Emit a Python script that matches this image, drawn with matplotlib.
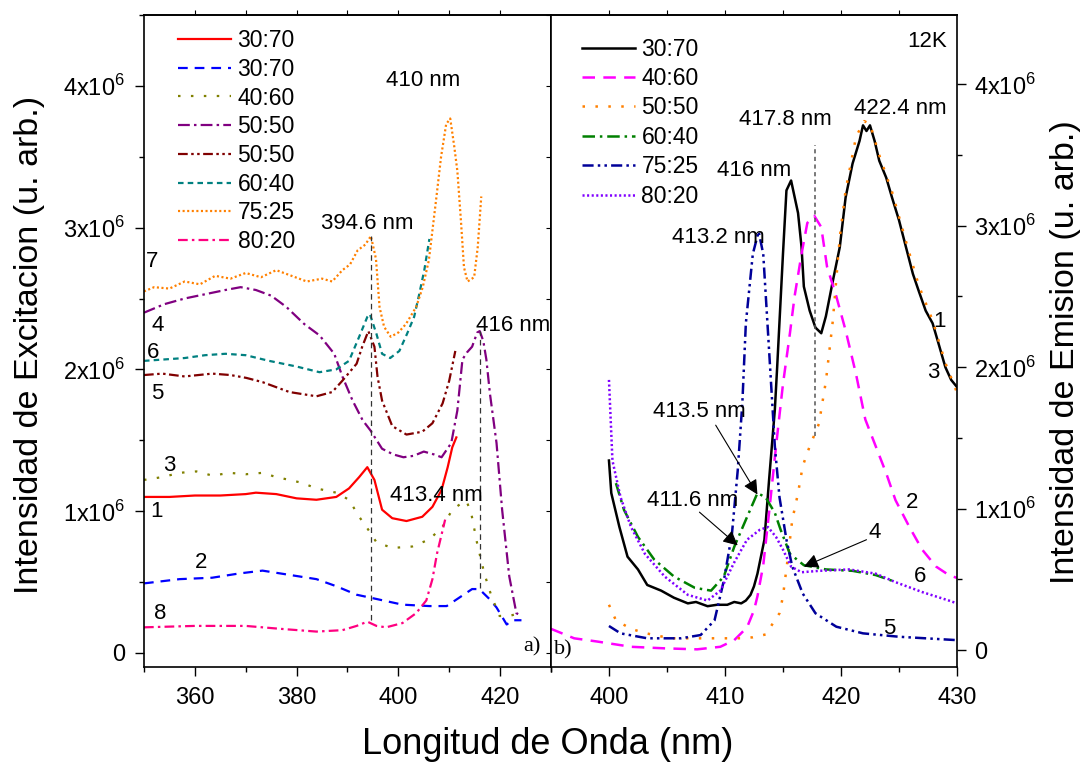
import numpy as np
import matplotlib.pyplot as plt
from matplotlib.ticker import MultipleLocator, FixedLocator

plt.rcParams['font.family'] = ['Liberation Sans', 'DejaVu Sans']
plt.rcParams['mathtext.fontset'] = 'custom'
plt.rcParams['mathtext.rm'] = 'Liberation Sans'
plt.rcParams['lines.scale_dashes'] = False

# ---------------- a) espectros de excitacion (u. arb. / 1e6) ----------------
exc_labels = ['30:70', '30:70', '40:60', '50:50', '50:50', '60:40', '75:25', '80:20']

exc1_x = [350, 355, 360, 365, 370, 372, 376, 380, 383.9, 387.8, 390.3, 392.3, 393.9, 395.3,
          396.8, 398.8, 401.6, 404.7, 406.7, 408.5, 409.7, 410.6, 411.4]
exc1_y = [1.10, 1.10, 1.11, 1.11, 1.12, 1.13, 1.12, 1.09, 1.08, 1.10, 1.16, 1.24, 1.31, 1.22,
          1.01, 0.95, 0.93, 0.96, 1.03, 1.15, 1.31, 1.45, 1.52]

exc2_x = [350, 357, 363.4, 368.7, 373.3, 378.6, 383.9, 387.8, 391.8, 395.7, 400.8, 406.1,
          409.5, 412, 414.5, 415.9, 417.9, 419.3, 421.3, 422.4, 424.2]
exc2_y = [0.49, 0.52, 0.53, 0.56, 0.58, 0.55, 0.52, 0.47, 0.41, 0.38, 0.34, 0.33,
          0.33, 0.39, 0.45, 0.45, 0.38, 0.32, 0.20, 0.23, 0.23]

exc3_x = [350, 353.6, 357, 360.3, 363.5, 366.8, 370, 373.3, 376, 378.6, 381, 383.9, 387.8,
          390.3, 392.3, 393.7, 395.7, 398.8, 402.7, 406.1, 408.7, 410.6, 412.6, 413.4, 414.3,
          415.5, 416.9, 418.3, 419.9, 421.8, 423.8]
exc3_y = [1.22, 1.24, 1.27, 1.28, 1.25, 1.27, 1.26, 1.27, 1.24, 1.22, 1.20, 1.16, 1.13,
          1.08, 0.96, 0.89, 0.78, 0.74, 0.75, 0.80, 0.89, 1.01, 1.06, 1.07, 0.99,
          0.77, 0.56, 0.40, 0.26, 0.26, 0.28]

exc4_x = [350, 354, 358, 362, 366, 369, 372, 375, 378, 381.5, 384.5, 387.4, 389, 391, 393,
          394.5, 396.8, 399, 401, 403, 405, 407, 408.5, 410.4, 411.6, 412.6, 413.5, 414.5,
          415.5, 416, 416.7, 417.3, 418, 419.3, 420.4, 421.8, 423.2, 424.2]
exc4_y = [2.40, 2.46, 2.50, 2.53, 2.56, 2.58, 2.56, 2.52, 2.44, 2.32, 2.24, 2.11, 1.95, 1.78, 1.64,
          1.57, 1.44, 1.40, 1.38, 1.39, 1.42, 1.40, 1.38, 1.48, 1.71, 2.07, 2.12, 2.16,
          2.26, 2.27, 2.20, 2.07, 1.83, 1.48, 1.01, 0.54, 0.28, 0.26]

exc5_x = [350, 353.6, 358, 363.4, 367, 370.1, 373.3, 378.6, 383.9, 387, 389, 391.8, 392.9,
          394.1, 395.3, 395.9, 396.8, 398.8, 401.6, 404.7, 406.7, 408.7, 410, 411.2]
exc5_y = [1.96, 1.97, 1.95, 1.97, 1.96, 1.94, 1.91, 1.84, 1.81, 1.84, 1.92, 2.04, 2.16,
          2.27, 2.16, 1.95, 1.78, 1.60, 1.54, 1.56, 1.62, 1.76, 1.92, 2.13]

exc6_x = [350, 354, 358, 362, 366, 370, 374.6, 380, 384.5, 387.8, 390.3, 392.3, 393.9, 394.4,
          395.7, 396.8, 398.4, 400.2, 401.7, 403.1, 404.1, 405.1, 406.1]
exc6_y = [2.06, 2.07, 2.08, 2.10, 2.11, 2.10, 2.06, 2.02, 1.98, 2.00, 2.06, 2.23, 2.37, 2.39,
          2.25, 2.11, 2.08, 2.13, 2.25, 2.37, 2.53, 2.70, 2.92]

exc7_x = [350, 352, 355, 358, 361, 364, 367, 370, 373, 376, 379, 382, 385, 387, 389, 390.5,
          392, 393.5, 394.6, 395.6, 396.3, 397.2, 398.5, 400, 401.5, 403.5, 404.8, 406, 407.4,
          408.4, 409.4, 410.2, 411, 411.6, 412.3, 412.9, 413.6, 414.9, 415.6, 416.3]
exc7_y = [2.55, 2.58, 2.57, 2.62, 2.60, 2.66, 2.64, 2.68, 2.65, 2.70, 2.66, 2.62, 2.64, 2.62,
          2.70, 2.74, 2.84, 2.88, 2.94, 2.78, 2.44, 2.30, 2.23, 2.26, 2.32, 2.44, 2.58, 2.77,
          3.19, 3.50, 3.73, 3.77, 3.57, 3.40, 3.05, 2.72, 2.62, 2.65, 2.86, 3.22]

exc8_x = [350, 360, 370, 376.6, 383.9, 389, 391.8, 393.9, 395.7, 397.6, 400.8, 403.5, 405.5,
          406.7, 407.6, 408.6, 409.2]
exc8_y = [0.18, 0.19, 0.19, 0.17, 0.15, 0.16, 0.19, 0.22, 0.19, 0.18, 0.21, 0.28, 0.37,
          0.52, 0.70, 0.85, 0.94]

# lineas verticales de los picos (x, y inferior, y superior)
exc_peak_x = [394.6, 416.0]
exc_peak_lo = [0.23, 0.46]
exc_peak_hi = [2.94, 2.27]

# ---------------- b) espectros de emision 12K ----------------
em_labels = ['30:70', '40:60', '50:50', '60:40', '75:25', '80:20']

em1_x = [400, 400.2, 400.9, 401.6, 402.5, 403.3, 404.5, 405.6, 406.8, 407.5, 408.5, 409.3,
         410.2, 410.8, 411.4, 411.8, 412.2, 412.5, 412.8, 413.4, 413.8, 414.3, 414.5, 415.0,
         415.3, 415.7, 416.3, 416.6, 416.8, 417.3, 417.8, 418.3, 418.7, 419.3, 419.9, 420.4,
         421.0, 421.6, 421.9, 422.2, 422.5, 422.9, 423.3, 423.9, 424.4, 425.0, 425.6, 426.2,
         426.7, 427.3, 427.9, 428.4, 429.0, 429.5, 430]
em1_y = [1.34, 1.11, 0.87, 0.66, 0.57, 0.46, 0.42, 0.37, 0.33, 0.34, 0.31, 0.32,
         0.32, 0.34, 0.33, 0.35, 0.39, 0.45, 0.54, 0.78, 1.20, 1.70, 2.00, 2.80,
         3.25, 3.32, 3.09, 2.85, 2.57, 2.40, 2.28, 2.24, 2.36, 2.61, 2.85, 3.20,
         3.44, 3.60, 3.71, 3.67, 3.71, 3.60, 3.46, 3.34, 3.20, 3.04, 2.85, 2.66,
         2.54, 2.40, 2.31, 2.17, 2.00, 1.91, 1.86]

em2_x = [395, 397, 399, 401.9, 404.8, 407.6, 409.6, 410.8, 411.9, 412.5, 412.8, 413.3, 413.8,
         414.4, 415.0, 415.6, 416.0, 416.6, 417.1, 417.7, 418.3, 418.8, 419.6, 420.4, 421.3,
         422.1, 423.0, 423.9, 424.7, 425.9, 427.0, 428.2, 429.3, 430]
em2_y = [0.15, 0.083, 0.06, 0.023, 0.012, 0.005, 0.023, 0.07, 0.16, 0.28, 0.38, 0.60, 0.97,
         1.44, 1.88, 2.24, 2.50, 2.80, 3.02, 3.07, 2.99, 2.71, 2.50, 2.26, 1.95,
         1.63, 1.44, 1.25, 1.06, 0.87, 0.71, 0.59, 0.53, 0.51]

em3_x = [400, 400.6, 401.9, 403.1, 405.3, 407.6, 409.6, 411.4, 412.4, 413.5, 414.7, 415.0,
         415.4, 415.8, 416.3, 416.7, 417.3, 418.1, 418.7, 419.3, 419.9, 420.4, 421.3, 422.0,
         422.5, 423.3, 424.4, 425.6, 426.7, 427.9, 429.0, 430]
em3_y = [0.32, 0.21, 0.15, 0.12, 0.083, 0.083, 0.083, 0.083, 0.09, 0.11, 0.26, 0.38,
         0.64, 0.92, 1.11, 1.30, 1.44, 1.60, 1.90, 2.33, 2.92, 3.25, 3.63, 3.74,
         3.72, 3.50, 3.24, 2.89, 2.58, 2.33, 2.03, 1.82]

em4_x = [400.6, 401.3, 402.5, 403.9, 405.6, 407.4, 408.8, 409.9, 410.8, 411.9, 412.8, 413.5,
         414.3, 414.8, 415.6, 416.8, 418.7, 421.0, 423.0, 424.4]
em4_y = [1.18, 0.99, 0.80, 0.64, 0.52, 0.44, 0.42, 0.52, 0.73, 0.94, 1.11, 1.08,
         0.97, 0.85, 0.68, 0.60, 0.57, 0.56, 0.53, 0.49]

em5_x = [400, 401.0, 403.3, 406.2, 407.9, 409.1, 409.9, 410.6, 411.1, 411.5, 411.8, 412.4,
         412.9, 413.3, 413.7, 414.0, 414.3, 414.7, 415.3, 415.8, 416.7, 417.8, 419.6, 421.9,
         425.0, 430]
em5_y = [0.17, 0.118, 0.083, 0.083, 0.106, 0.21, 0.49, 0.82, 1.27, 1.75, 2.31, 2.80,
         2.96, 2.80, 2.26, 1.85, 1.44, 1.08, 0.78, 0.59, 0.40, 0.26, 0.165, 0.118,
         0.094, 0.07]

em6_x = [400, 400.3, 401.0, 401.9, 403.1, 404.8, 406.8, 408.5, 409.6, 410.8, 411.9, 413.0,
         413.7, 414.4, 415.0, 415.7, 416.6, 418.1, 420.7, 423.0, 424.7, 427.0, 429.3, 430]
em6_y = [1.91, 1.34, 1.08, 0.87, 0.68, 0.52, 0.39, 0.35, 0.42, 0.62, 0.78, 0.85,
         0.87, 0.80, 0.71, 0.59, 0.55, 0.56, 0.57, 0.54, 0.48, 0.41, 0.35, 0.33]

em_peak_x = [417.8]
em_peak_lo = [1.51]
em_peak_hi = [3.57]

ytick_vals = [0, 1, 2, 3, 4]
ytick_text = ['0', '1x10$^6$', '2x10$^6$', '3x10$^6$', '4x10$^6$']

# ---------------- figura ----------------
fig = plt.figure(figsize=(10.85, 7.63), dpi=100)
ax1 = fig.add_axes([0.1327, 0.1258, 0.3751, 0.8545])
ax2 = fig.add_axes([0.5078, 0.1258, 0.3742, 0.8545])

lw = 1.6
ax1.plot(exc1_x, exc1_y, color='#ff0000', lw=lw, label=exc_labels[0])
ax1.plot(exc2_x, exc2_y, color='#0000ff', lw=lw, dashes=(7, 5), label=exc_labels[1])
ax1.plot(exc3_x, exc3_y, color='#808000', lw=lw, dashes=(1.8, 7.5), label=exc_labels[2])
ax1.plot(exc4_x, exc4_y, color='#800080', lw=lw, dashes=(8.5, 3, 1.8, 3), label=exc_labels[3])
ax1.plot(exc5_x, exc5_y, color='#800000', lw=lw, dashes=(7, 2.5, 1.8, 2.5, 1.8, 2.5), label=exc_labels[4])
ax1.plot(exc6_x, exc6_y, color='#008080', lw=lw, dashes=(4, 3), label=exc_labels[5])
ax1.plot(exc7_x, exc7_y, color='#ff8000', lw=lw, dashes=(1.5, 1.8), label=exc_labels[6])
ax1.plot(exc8_x, exc8_y, color='#ff0080', lw=lw, dashes=(7, 3, 1.8, 3), label=exc_labels[7])
ax1.vlines(exc_peak_x, exc_peak_lo, exc_peak_hi, colors='#333333', lw=0.9, linestyles=(0, (4, 3)))

lw2 = 1.8
ax2.plot(em1_x, em1_y, color='black', lw=lw2, label=em_labels[0])
ax2.plot(em2_x, em2_y, color='#ff00ff', lw=lw2, dashes=(9, 6), label=em_labels[1])
ax2.plot(em3_x, em3_y, color='#ff8000', lw=lw2, dashes=(1.8, 7.5), label=em_labels[2])
ax2.plot(em4_x, em4_y, color='#008000', lw=lw2, dashes=(9, 3.5, 1.8, 3.5), label=em_labels[3])
ax2.plot(em5_x, em5_y, color='#000099', lw=lw2, dashes=(8, 3, 1.8, 3, 1.8, 3), label=em_labels[4])
ax2.plot(em6_x, em6_y, color='#8000ff', lw=lw2, dashes=(1.5, 1.8), label=em_labels[5])
ax2.vlines(em_peak_x, em_peak_lo, em_peak_hi, colors='#555555', lw=1.1, linestyles=(0, (3, 2.5)))

# ejes
ax1.set_xlim(350, 430)
ax1.set_ylim(-0.1, 4.5)
ax2.set_xlim(395, 430)
ax2.set_ylim(-0.12, 4.49)

tick_fs = 17
ax1.xaxis.set_major_locator(FixedLocator([360, 380, 400, 420]))
ax1.xaxis.set_minor_locator(MultipleLocator(10))
ax1.set_yticks(ytick_vals)
ax1.set_yticklabels(ytick_text)
ax1.yaxis.set_minor_locator(MultipleLocator(0.5))
ax1.tick_params(which='both', direction='out', labelsize=tick_fs, top=False, right=False)
ax1.tick_params(which='major', length=6.5, width=1)
ax1.tick_params(which='minor', length=3.5, width=1)
ax1.tick_params(axis='y', pad=7)
ax1.tick_params(axis='x', pad=8)

ax2.xaxis.set_major_locator(FixedLocator([400, 410, 420, 430]))
ax2.xaxis.set_minor_locator(MultipleLocator(5))
ax2.yaxis.tick_right()
ax2.set_yticks(ytick_vals)
ax2.set_yticklabels(ytick_text)
ax2.yaxis.set_minor_locator(MultipleLocator(0.5))
ax2.tick_params(which='both', direction='out', labelsize=tick_fs, left=False, right=True,
                labelleft=False, labelright=True)
ax2.tick_params(which='major', length=6.5, width=1)
ax2.tick_params(which='minor', length=3.5, width=1)
ax2.tick_params(axis='y', pad=6)
ax2.tick_params(axis='x', pad=8)

# marcas arriba y en la division central
top1 = ax1.secondary_xaxis('top')
top1.set_xticks(np.arange(360, 430, 10))
top1.tick_params(direction='out', length=3.5, labeltop=False)
top2 = ax2.secondary_xaxis('top')
top2.set_xticks(np.arange(400, 430, 5))
top2.tick_params(direction='out', length=3.5, labeltop=False)
mid = ax1.secondary_yaxis('right')
mid.set_yticks(np.arange(0, 4.6, 0.5))
mid.tick_params(direction='in', length=3.5, labelright=False)

for ax in (ax1, ax2, top1, top2, mid):
    for s in ax.spines.values():
        s.set_linewidth(1.2)

# leyendas
ax1.legend(loc='upper left', bbox_to_anchor=(0.0835, 0.9785), frameon=False, fontsize=16.5,
           handlelength=2.3, handletextpad=0.3, labelspacing=0.25, borderpad=0, borderaxespad=0)
ax2.legend(loc='upper left', bbox_to_anchor=(0.076, 0.9655), frameon=False, fontsize=16.5,
           handlelength=2.3, handletextpad=0.3, labelspacing=0.28, borderpad=0, borderaxespad=0)

# textos panel a)
fs = 16
for t, x, y in [('7', 351.5, 2.76), ('4', 352.6, 2.31), ('6', 351.8, 2.12), ('5', 352.6, 1.83),
                ('3', 355.0, 1.32), ('1', 352.4, 1.00), ('2', 361.3, 0.64), ('8', 353.2, 0.28)]:
    ax1.text(x, y, t, fontsize=fs, ha='center', va='center')
ax1.text(404.9, 4.04, '410 nm', fontsize=fs, ha='center', va='center')
ax1.text(393.9, 3.03, '394.6 nm', fontsize=fs, ha='center', va='center')
ax1.text(422.6, 2.31, '416 nm', fontsize=fs, ha='center', va='center', clip_on=False)
ax1.text(407.4, 1.11, '413.4 nm', fontsize=fs, ha='center', va='center')
ax1.text(426.3, 0.04, 'a)', fontsize=fs, ha='center', va='center', family='Liberation Serif')

# textos panel b)
ax2.text(427.4, 4.30, '12K', fontsize=fs, ha='center', va='center')
ax2.text(415.2, 3.75, '417.8 nm', fontsize=fs, ha='center', va='center')
ax2.text(425.1, 3.83, '422.4 nm', fontsize=fs, ha='center', va='center')
ax2.text(412.5, 3.39, '416 nm', fontsize=fs, ha='center', va='center')
ax2.text(409.4, 2.92, '413.2 nm', fontsize=fs, ha='center', va='center')
ax2.text(407.8, 1.69, '413.5 nm', fontsize=fs, ha='center', va='center')
ax2.text(407.2, 1.06, '411.6 nm', fontsize=fs, ha='center', va='center')
for t, x, y in [('2', 426.1, 1.04), ('6', 426.8, 0.52), ('5', 424.2, 0.155), ('1', 428.5, 2.32),
                ('3', 428.0, 1.96), ('4', 422.9, 0.83)]:
    ax2.text(x, y, t, fontsize=fs, ha='center', va='center')
ax2.text(396.1, 0.0, 'b)', fontsize=fs, ha='center', va='center', family='Liberation Serif')

arrow = dict(arrowstyle='-|>', color='black', lw=0.8, mutation_scale=22, shrinkA=0, shrinkB=0)
ax2.annotate('', xy=(412.8, 1.10), xytext=(409.2, 1.59), arrowprops=arrow)
ax2.annotate('', xy=(411.1, 0.74), xytext=(407.8, 0.975), arrowprops=arrow)
ax2.annotate('', xy=(416.8, 0.59), xytext=(422.2, 0.78), arrowprops=arrow)

# etiquetas de ejes
fig.text(0.505, 0.0236, 'Longitud de Onda (nm)', fontsize=26, ha='center', va='center')
fig.text(0.0276, 0.548, 'Intensidad de Excitacion (u. arb.)', fontsize=24.5, rotation=90,
         ha='center', va='center')
fig.text(0.9816, 0.539, 'Intensidad de Emision (u. arb.)', fontsize=24.5, rotation=90,
         ha='center', va='center')

plt.savefig('out.png', dpi=100)
